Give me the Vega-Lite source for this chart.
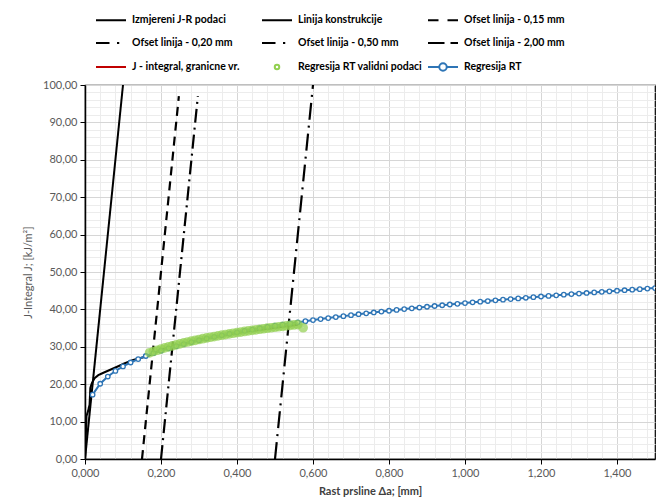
{
  "$schema": "https://vega.github.io/schema/vega-lite/v6.json",
  "width": 570,
  "height": 374,
  "autosize": {"type": "none"},
  "padding": {"left": 85, "top": 85, "right": 4, "bottom": 42},
  "background": "white",
  "datasets": {
    "lines": [
      {"s": "Izmjereni J-R podaci", "x": 0.0, "y": 0.0},
      {"s": "Izmjereni J-R podaci", "x": 0.004, "y": 11.5},
      {"s": "Izmjereni J-R podaci", "x": 0.008, "y": 12.8},
      {"s": "Izmjereni J-R podaci", "x": 0.012, "y": 14.5},
      {"s": "Izmjereni J-R podaci", "x": 0.014, "y": 19.0},
      {"s": "Izmjereni J-R podaci", "x": 0.018, "y": 20.3},
      {"s": "Izmjereni J-R podaci", "x": 0.026, "y": 21.7},
      {"s": "Izmjereni J-R podaci", "x": 0.035, "y": 22.4},
      {"s": "Izmjereni J-R podaci", "x": 0.047, "y": 23.0},
      {"s": "Izmjereni J-R podaci", "x": 0.065, "y": 23.8},
      {"s": "Izmjereni J-R podaci", "x": 0.083, "y": 24.6},
      {"s": "Izmjereni J-R podaci", "x": 0.105, "y": 25.6},
      {"s": "Izmjereni J-R podaci", "x": 0.127, "y": 26.5},
      {"s": "Izmjereni J-R podaci", "x": 0.146, "y": 27.0},
      {"s": "Izmjereni J-R podaci", "x": 0.166, "y": 27.5},
      {"s": "Izmjereni J-R podaci", "x": 0.2, "y": 29.2},
      {"s": "Izmjereni J-R podaci", "x": 0.3, "y": 31.8},
      {"s": "Izmjereni J-R podaci", "x": 0.4, "y": 33.7},
      {"s": "Izmjereni J-R podaci", "x": 0.5, "y": 35.1},
      {"s": "Izmjereni J-R podaci", "x": 0.56, "y": 35.9},
      {"s": "Linija konstrukcije", "x": 0.0, "y": 0.0},
      {"s": "Linija konstrukcije", "x": 0.1, "y": 100.0},
      {"s": "Ofset linija - 0,15 mm", "x": 0.15, "y": 0.0},
      {"s": "Ofset linija - 0,15 mm", "x": 0.247, "y": 97.0},
      {"s": "Ofset linija - 0,20 mm", "x": 0.2, "y": 0.0},
      {"s": "Ofset linija - 0,20 mm", "x": 0.297, "y": 97.0},
      {"s": "Ofset linija - 0,50 mm", "x": 0.5, "y": 0.0},
      {"s": "Ofset linija - 0,50 mm", "x": 0.6, "y": 100.0},
      {"s": "Ofset linija - 2,00 mm", "x": 2.0, "y": 0.0},
      {"s": "Ofset linija - 2,00 mm", "x": 2.1, "y": 100.0}
    ],
    "valid": [
      {"x": 0.17, "y": 28.4}, {"x": 0.18, "y": 28.75}, {"x": 0.19, "y": 29.08}, {"x": 0.2, "y": 29.4},
      {"x": 0.21, "y": 29.7}, {"x": 0.22, "y": 30.0}, {"x": 0.23, "y": 30.27}, {"x": 0.24, "y": 30.54},
      {"x": 0.25, "y": 30.8}, {"x": 0.26, "y": 31.05}, {"x": 0.27, "y": 31.28}, {"x": 0.28, "y": 31.51},
      {"x": 0.29, "y": 31.73}, {"x": 0.3, "y": 31.95}, {"x": 0.31, "y": 32.16}, {"x": 0.32, "y": 32.36},
      {"x": 0.33, "y": 32.55}, {"x": 0.34, "y": 32.74}, {"x": 0.35, "y": 32.92}, {"x": 0.36, "y": 33.1},
      {"x": 0.37, "y": 33.28}, {"x": 0.38, "y": 33.45}, {"x": 0.39, "y": 33.62}, {"x": 0.4, "y": 33.78},
      {"x": 0.41, "y": 33.94}, {"x": 0.42, "y": 34.1}, {"x": 0.43, "y": 34.25}, {"x": 0.44, "y": 34.4},
      {"x": 0.45, "y": 34.55}, {"x": 0.46, "y": 34.69}, {"x": 0.47, "y": 34.83}, {"x": 0.48, "y": 34.97},
      {"x": 0.49, "y": 35.1}, {"x": 0.5, "y": 35.23}, {"x": 0.51, "y": 35.36}, {"x": 0.52, "y": 35.48},
      {"x": 0.53, "y": 35.6}, {"x": 0.54, "y": 35.72}, {"x": 0.55, "y": 35.84}, {"x": 0.56, "y": 35.95},
      {"x": 0.574, "y": 35.1}
    ],
    "reg": [
      {"x": 0.02, "y": 17.2}, {"x": 0.04, "y": 20.12}, {"x": 0.06, "y": 22.05}, {"x": 0.08, "y": 23.54},
      {"x": 0.1, "y": 24.76}, {"x": 0.12, "y": 25.8}, {"x": 0.14, "y": 26.72}, {"x": 0.16, "y": 27.54},
      {"x": 0.18, "y": 28.28}, {"x": 0.2, "y": 28.96}, {"x": 0.22, "y": 29.6}, {"x": 0.24, "y": 30.18},
      {"x": 0.26, "y": 30.74}, {"x": 0.28, "y": 31.26}, {"x": 0.3, "y": 31.75}, {"x": 0.32, "y": 32.22},
      {"x": 0.34, "y": 32.66}, {"x": 0.36, "y": 33.08}, {"x": 0.38, "y": 33.49}, {"x": 0.4, "y": 33.88},
      {"x": 0.42, "y": 34.26}, {"x": 0.44, "y": 34.62}, {"x": 0.46, "y": 34.97}, {"x": 0.48, "y": 35.31},
      {"x": 0.5, "y": 35.64}, {"x": 0.52, "y": 35.95}, {"x": 0.54, "y": 36.27}, {"x": 0.56, "y": 36.56},
      {"x": 0.58, "y": 36.85}, {"x": 0.6, "y": 37.14}, {"x": 0.62, "y": 37.42}, {"x": 0.64, "y": 37.68},
      {"x": 0.66, "y": 37.95}, {"x": 0.68, "y": 38.2}, {"x": 0.7, "y": 38.46}, {"x": 0.72, "y": 38.71},
      {"x": 0.74, "y": 38.94}, {"x": 0.76, "y": 39.18}, {"x": 0.78, "y": 39.41}, {"x": 0.8, "y": 39.64},
      {"x": 0.82, "y": 39.86}, {"x": 0.84, "y": 40.08}, {"x": 0.86, "y": 40.29}, {"x": 0.88, "y": 40.5},
      {"x": 0.9, "y": 40.71}, {"x": 0.92, "y": 40.91}, {"x": 0.94, "y": 41.11}, {"x": 0.96, "y": 41.31},
      {"x": 0.98, "y": 41.5}, {"x": 1.0, "y": 41.69}, {"x": 1.02, "y": 41.88}, {"x": 1.04, "y": 42.06},
      {"x": 1.06, "y": 42.24}, {"x": 1.08, "y": 42.42}, {"x": 1.1, "y": 42.6}, {"x": 1.12, "y": 42.77},
      {"x": 1.14, "y": 42.94}, {"x": 1.16, "y": 43.11}, {"x": 1.18, "y": 43.28}, {"x": 1.2, "y": 43.45},
      {"x": 1.22, "y": 43.61}, {"x": 1.24, "y": 43.77}, {"x": 1.26, "y": 43.93}, {"x": 1.28, "y": 44.09},
      {"x": 1.3, "y": 44.24}, {"x": 1.32, "y": 44.39}, {"x": 1.34, "y": 44.54}, {"x": 1.36, "y": 44.69},
      {"x": 1.38, "y": 44.84}, {"x": 1.4, "y": 44.99}, {"x": 1.42, "y": 45.13}, {"x": 1.44, "y": 45.28},
      {"x": 1.46, "y": 45.42}, {"x": 1.48, "y": 45.56}, {"x": 1.5, "y": 45.7}
    ]
  },
  "encoding": {
    "x": {"field": "x", "type": "quantitative", "scale": {"domain": [0, 1.5], "nice": false, "zero": false}, "axis": null},
    "y": {"field": "y", "type": "quantitative", "scale": {"domain": [0, 100], "nice": false, "zero": false}, "axis": null}
  },
  "layer": [
    {
      "data": {"name": "lines"},
      "transform": [{"filter": "datum.s === 'Izmjereni J-R podaci' || datum.s === 'Linija konstrukcije'"}],
      "mark": {"type": "line", "color": "#000000", "strokeWidth": 2, "clip": true},
      "encoding": {
        "detail": {"field": "s"},
        "x": {"field": "x", "type": "quantitative", "scale": {"domain": [0, 1.5], "nice": false, "zero": false},
          "axis": {"orient": "bottom", "values": [0.04,0.08,0.12,0.16,0.24,0.28,0.32,0.36,0.44,0.48,0.52,0.56,0.64,0.68,0.72,0.76,0.84,0.88,0.92,0.96,1.04,1.08,1.12,1.16,1.24,1.28,1.32,1.36,1.44,1.48],
            "grid": true, "gridColor": "#ececec", "gridWidth": 1, "labels": false, "ticks": false, "domain": false, "title": null}},
        "y": {"field": "y", "type": "quantitative", "scale": {"domain": [0, 100], "nice": false, "zero": false},
          "axis": {"orient": "left", "values": [2,4,6,8,12,14,16,18,22,24,26,28,32,34,36,38,42,44,46,48,52,54,56,58,62,64,66,68,72,74,76,78,82,84,86,88,92,94,96,98],
            "grid": true, "gridColor": "#ececec", "gridWidth": 1, "labels": false, "ticks": false, "domain": false, "title": null}}
      }
    },
    {
      "data": {"name": "lines"},
      "transform": [{"filter": "datum.s === 'Ofset linija - 0,15 mm'"}],
      "mark": {"type": "line", "color": "#000000", "strokeWidth": 2.2, "strokeDash": [9, 6], "clip": true},
      "encoding": {
        "x": {"field": "x", "type": "quantitative", "scale": {"domain": [0, 1.5], "nice": false, "zero": false},
          "axis": {"orient": "bottom", "values": [0, 0.2, 0.4, 0.6, 0.8, 1.0, 1.2, 1.4], "format": ".3f", "labelFlush": false,
            "grid": true, "gridColor": "#d6d6d6", "gridWidth": 1,
            "domain": true, "domainColor": "#000000", "domainWidth": 1.5,
            "ticks": true, "tickColor": "#000000", "tickSize": 5, "tickWidth": 1,
            "labelColor": "#595959", "labelFontSize": 11, "labelPadding": 3,
            "title": "Rast prsline Δa; [mm]", "titleFontSize": 11, "titleFontWeight": "bold", "titleColor": "#404040", "titlePadding": 7}},
        "y": {"field": "y", "type": "quantitative", "scale": {"domain": [0, 100], "nice": false, "zero": false},
          "axis": {"orient": "left", "values": [0, 10, 20, 30, 40, 50, 60, 70, 80, 90, 100], "format": ".2f", "labelFlush": false,
            "grid": true, "gridColor": "#d6d6d6", "gridWidth": 1,
            "domain": true, "domainColor": "#000000", "domainWidth": 1.5,
            "ticks": true, "tickColor": "#000000", "tickSize": 5, "tickWidth": 1,
            "labelColor": "#595959", "labelFontSize": 11, "labelPadding": 3,
            "title": "J-Integral J; [kJ/m²]", "titleFontSize": 11, "titleFontWeight": "normal", "titleColor": "#595959", "titlePadding": 9}}
      }
    },
    {
      "data": {"name": "lines"},
      "transform": [{"filter": "datum.s === 'Ofset linija - 0,20 mm'"}],
      "mark": {"type": "line", "color": "#000000", "strokeWidth": 2.2, "strokeDash": [14, 5, 2, 5], "clip": true}
    },
    {
      "data": {"name": "lines"},
      "transform": [{"filter": "datum.s === 'Ofset linija - 0,50 mm'"}],
      "mark": {"type": "line", "color": "#000000", "strokeWidth": 2.2, "strokeDash": [17, 6, 2, 6], "clip": true}
    },
    {
      "data": {"name": "lines"},
      "transform": [{"filter": "datum.s === 'Ofset linija - 2,00 mm'"}],
      "mark": {"type": "line", "color": "#000000", "strokeWidth": 2.2, "strokeDash": [14, 6, 5, 6], "clip": true}
    },
    {
      "data": {"name": "reg"},
      "mark": {"type": "line", "color": "#2E75B6", "strokeWidth": 2, "clip": true,
        "point": {"filled": false, "fill": "white", "color": "#2E75B6", "size": 20, "strokeWidth": 1.3}}
    },
    {
      "data": {"name": "valid"},
      "mark": {"type": "point", "shape": "circle", "filled": false, "color": "#92D050", "size": 26, "strokeWidth": 4.6, "clip": true}
    },
    {
      "data": {"name": "lines"},
      "mark": {"type": "point", "filled": false, "opacity": 0},
      "encoding": {
        "color": {"field": "s", "type": "nominal",
          "scale": {"domain": ["Izmjereni J-R podaci", "Linija konstrukcije", "Ofset linija - 0,15 mm", "Ofset linija - 0,20 mm", "Ofset linija - 0,50 mm", "Ofset linija - 2,00 mm", "J - integral, granicne vr.", "Regresija RT validni podaci", "Regresija RT"],
            "range": ["#000000", "#000000", "#000000", "#000000", "#000000", "#000000", "#C00000", "#92D050", "#2E75B6"]},
          "legend": {"title": null, "orient": "none", "legendX": 10, "legendY": -82, "direction": "horizontal", "columns": 3, "gridAlign": "all",
            "symbolSize": 900, "symbolStrokeWidth": 2, "labelFont": "Lato", "labelFontSize": 10.5, "labelFontWeight": "bold", "labelColor": "#000000",
            "labelOffset": 5, "labelLimit": 200, "columnPadding": 1, "rowPadding": -7}},
        "shape": {"field": "s", "type": "nominal",
          "scale": {"domain": ["Izmjereni J-R podaci", "Linija konstrukcije", "Ofset linija - 0,15 mm", "Ofset linija - 0,20 mm", "Ofset linija - 0,50 mm", "Ofset linija - 2,00 mm", "J - integral, granicne vr.", "Regresija RT validni podaci", "Regresija RT"],
            "range": ["M-1,0L1,0", "M-1,0L1,0", "M-1,0L-0.3,0M0.3,0L1,0", "M-1,0L-0.1,0M0.4,0L0.55,0", "M-1,0L-0.1,0M0.4,0L0.55,0", "M-1,0L0.1,0M0.5,0L1,0", "M-1,0L1,0",
              "M0.15,0A0.15,0.15,0,1,1,-0.15,0A0.15,0.15,0,1,1,0.15,0",
              "M-1,0L-0.25,0M0.25,0L1,0M0.25,0A0.25,0.25,0,1,1,-0.25,0A0.25,0.25,0,1,1,0.25,0"]},
          "legend": {"title": null, "orient": "none", "legendX": 10, "legendY": -82, "direction": "horizontal", "columns": 3, "gridAlign": "all",
            "symbolSize": 900, "symbolStrokeWidth": 2, "labelFont": "Lato", "labelFontSize": 10.5, "labelFontWeight": "bold", "labelColor": "#000000",
            "labelOffset": 5, "labelLimit": 200, "columnPadding": 1, "rowPadding": -7}}
      }
    }
  ],
  "resolve": {"axis": {"x": "independent", "y": "independent"}},
  "config": {
    "locale": {"number": {"decimal": ",", "thousands": ".", "grouping": [3], "currency": ["", " €"]}},
    "font": "Lato",
    "view": {"stroke": "#000000", "strokeWidth": 1.2},
    "axis": {"labelFont": "Lato", "titleFont": "Lato"},
    "legend": {"symbolOpacity": 1}
  }
}
